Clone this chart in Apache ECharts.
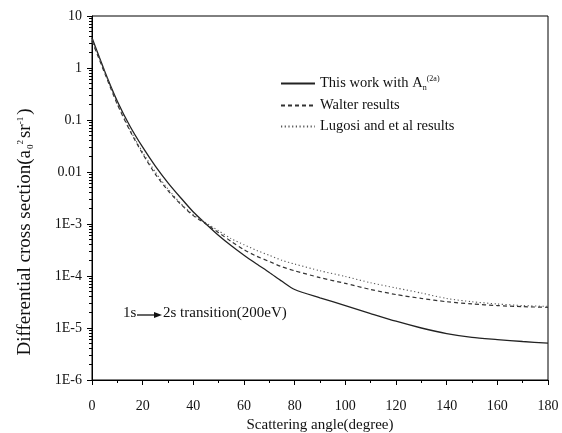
<!DOCTYPE html>
<html>
<head>
<meta charset="utf-8">
<script src="https://cdn.jsdelivr.net/npm/echarts@6/dist/echarts.min.js"></script>
<style>html,body{margin:0;padding:0;background:#fff}#c{width:562px;height:433px}</style>
</head>
<body>
<div id="c"></div>
<script>
var angles = [0,5,10,15,20,25,30,35,40,45,50,55,60,65,70,75,80,90,100,110,120,130,140,150,160,170,180];
var thisWork = [3.8,0.87,0.23,0.076,0.03,0.013,0.0062,0.0032,0.0017,0.001,0.0006,0.00038,0.00025,0.00017,0.000117,0.000079,0.000055,0.000038,0.000027,0.000019,0.0000135,0.00001,0.0000078,0.0000066,0.000006,0.0000055,0.0000051];
var walter = [3.3,0.8,0.2,0.062,0.0224,0.0091,0.0044,0.0024,0.00145,0.001,0.00068,0.00046,0.00032,0.00024,0.00019,0.00015,0.000126,0.000093,0.000072,0.000055,0.000044,0.000037,0.000032,0.000029,0.000027,0.0000257,0.000025];
var lugosi = [3.5,0.85,0.21,0.065,0.024,0.01,0.0047,0.0025,0.0015,0.00105,0.00074,0.00052,0.0004,0.00031,0.00025,0.0002,0.00017,0.000126,0.000098,0.000074,0.000059,0.000047,0.000037,0.000032,0.000029,0.000027,0.000026];
var yTickLabels = {'10':'10','1':'1','0.1':'0.1','0.01':'0.01','0.001':'1E-3','0.0001':'1E-4','0.00001':'1E-5','0.000001':'1E-6'};
var seriesNames = ['This work with A', 'Walter results', 'Lugosi and et al results'];

function pairs(vals){ return angles.map(function(a,i){ return [a, vals[i]]; }); }
var serif = 'Liberation Serif';
var chart = echarts.init(document.getElementById('c'), null, {renderer:'canvas'});
chart.setOption({
  animation: false,
  backgroundColor: '#fff',
  grid: {left: 92, top: 16, width: 456, height: 364, show: true, borderColor: '#000', borderWidth: 1,
         containLabel: false, outerBoundsMode: 'none'},
  legend: {
    orient: 'vertical', left: 275, top: 70, itemWidth: 34, itemHeight: 14, itemGap: 6,
    itemStyle: {opacity: 0},
    textStyle: {fontFamily: serif, fontSize: 14.5, color: '#111',
      rich: {
        sub: {fontFamily: serif, fontSize: 8, verticalAlign: 'bottom', padding: [7,0,0,0]},
        sup: {fontFamily: serif, fontSize: 8, verticalAlign: 'top', padding: [0,0,9,0]}
      }},
    formatter: function(n){ return n === seriesNames[0] ? n + '{sub|n}{sup|(2a)}' : n; },
    data: seriesNames
  },
  xAxis: {
    type: 'value', min: 0, max: 180, interval: 20,
    name: 'Scattering angle(degree)', nameLocation: 'middle', nameGap: 37,
    nameTextStyle: {fontFamily: serif, fontSize: 15, color: '#111'},
    axisLine: {lineStyle: {color: '#000', width: 1}},
    axisTick: {show: true, inside: false, length: 5, lineStyle: {color: '#000'}},
    minorTick: {show: true, splitNumber: 2, length: 3, lineStyle: {color: '#000'}},
    splitLine: {show: false},
    axisLabel: {fontFamily: serif, fontSize: 14, color: '#111', margin: 19}
  },
  yAxis: {
    type: 'log', logBase: 10, min: 0.000001, max: 10,
    name: 'Differential cross section(a{sub|0}{sup|2}sr{sup|-1})', nameLocation: 'middle', nameGap: 57,
    nameTextStyle: {fontFamily: serif, fontSize: 19, color: '#111', padding: [0, 68, 0, 0],
      rich: {
        sub: {fontFamily: serif, fontSize: 9, verticalAlign: 'bottom', padding: [9,0,0,1]},
        sup: {fontFamily: serif, fontSize: 9, verticalAlign: 'top', padding: [0,2,10,0]}
      }},
    axisLine: {lineStyle: {color: '#000', width: 1}},
    axisTick: {show: true, inside: false, length: 5, lineStyle: {color: '#000'}},
    minorTick: {show: true, splitNumber: 9, length: 3, lineStyle: {color: '#000'}},
    splitLine: {show: false},
    axisLabel: {fontFamily: serif, fontSize: 14, color: '#111', margin: 10,
      formatter: function(v){ var k = String(+v.toPrecision(6)); return yTickLabels[k] || k; }}
  },
  series: [
    {name: seriesNames[0], type: 'line', data: pairs(thisWork), showSymbol: false, symbol: 'none', smooth: 0.25,
     lineStyle: {color: '#222', width: 1.3, type: 'solid'}, itemStyle: {color: '#222'}},
    {name: seriesNames[1], type: 'line', data: pairs(walter), showSymbol: false, symbol: 'none', smooth: 0.25,
     lineStyle: {color: '#333', width: 1.2, type: [4, 3]}, itemStyle: {color: '#333'}},
    {name: seriesNames[2], type: 'line', data: pairs(lugosi), showSymbol: false, symbol: 'none', smooth: 0.25,
     lineStyle: {color: '#555', width: 1.1, type: [1.2, 2.5]}, itemStyle: {color: '#555'}}
  ],
  graphic: [
    {type: 'text', left: 123, top: 306, style: {text: '1s', font: '15px "Liberation Serif"', fill: '#111'}},
    {type: 'line', shape: {x1: 137, y1: 315, x2: 156, y2: 315}, style: {stroke: '#111', lineWidth: 1.3}},
    {type: 'polygon', shape: {points: [[162,315],[154,312],[154,318]]}, style: {fill: '#111'}},
    {type: 'text', left: 163, top: 306, style: {text: '2s transition(200eV)', font: '15px "Liberation Serif"', fill: '#111'}}
  ]
});
</script>
</body>
</html>
